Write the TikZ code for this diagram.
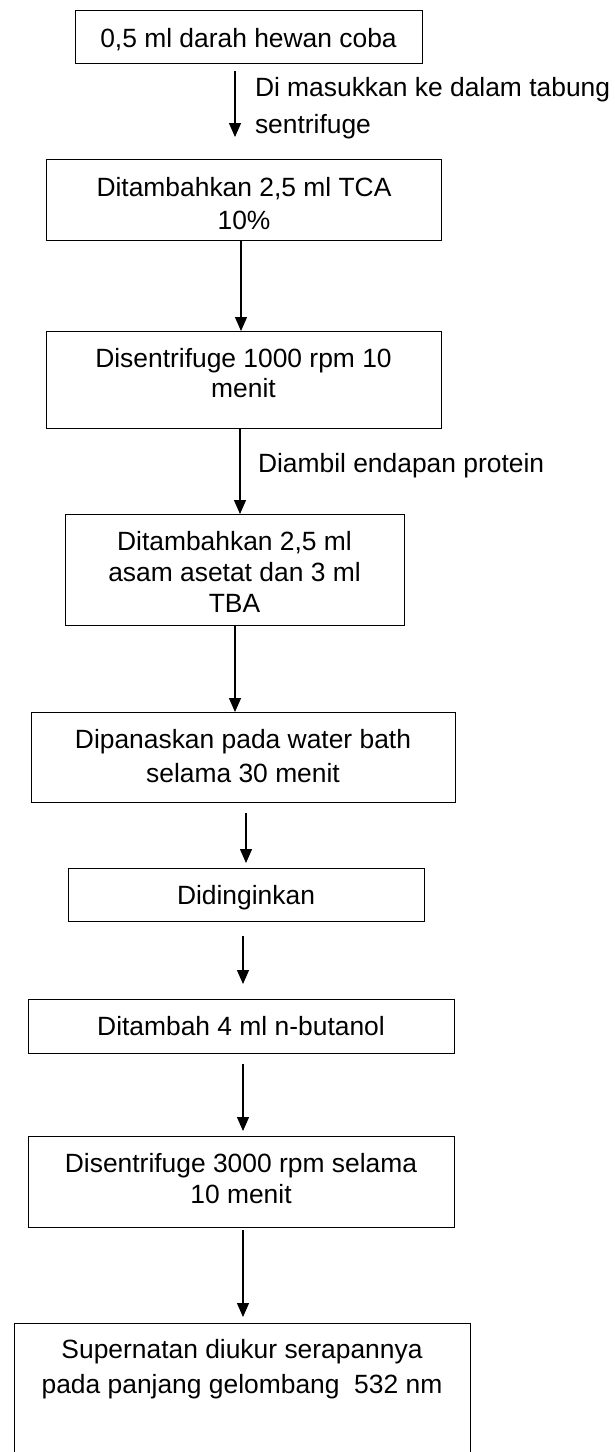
\documentclass[tikz,border=0pt]{standalone}
\usepackage{fontspec}
\setmainfont{Liberation Sans}
\usetikzlibrary{arrows.meta}
\begin{document}
\begin{tikzpicture}[x=1pt,y=-1pt,
  box/.style={draw=black,line width=1pt,inner sep=0pt,outer sep=0pt,rectangle},
  txt/.style={inner sep=0pt,outer sep=0pt,anchor=base,font=\fontsize{26.4pt}{32pt}\selectfont},
  ltxt/.style={txt,anchor=base west},
  arr/.style={line width=1.3pt,-{Triangle[length=14pt,width=12pt]}}]
\fill[white] (0,0) rectangle (615,1452);
\useasboundingbox (0,0) rectangle (615,1452);
% boxes
\node[box,minimum width=347pt,minimum height=53pt] (b1) at (248.5,36.5) {};
\node[box,minimum width=395pt,minimum height=81pt] (b2) at (243.5,199.5) {};
\node[box,minimum width=395pt,minimum height=97pt] (b3) at (243.5,379.5) {};
\node[box,minimum width=339pt,minimum height=111pt] (b4) at (234.5,569.5) {};
\node[box,minimum width=424pt,minimum height=90pt] (b5) at (243,757) {};
\node[box,minimum width=356pt,minimum height=53pt] (b6) at (246,894.5) {};
\node[box,minimum width=426pt,minimum height=54pt] (b7) at (241,1026) {};
\node[box,minimum width=426pt,minimum height=91pt] (b8) at (241,1181.5) {};
\node[box,minimum width=456pt,minimum height=133pt] (b9) at (242,1389.5) {};
% texts
\node[txt] (t1) at (248.5,47.5) {0,5 ml darah hewan coba};
\node[txt] (t2a) at (244,196) {Ditambahkan 2,5 ml TCA};
\node[txt] (t2b) at (244,229) {10\%};
\node[txt] (t3a) at (243.5,367) {Disentrifuge 1000 rpm 10};
\node[txt] (t3b) at (243.5,397) {menit};
\node[txt] (t4a) at (234.5,550) {Ditambahkan 2,5 ml};
\node[txt] (t4b) at (234.5,581) {asam asetat dan 3 ml};
\node[txt] (t4c) at (234.5,612) {TBA};
\node[txt] (t5a) at (243,748) {Dipanaskan pada water bath};
\node[txt] (t5b) at (243,782) {selama 30 menit};
\node[txt] (t6) at (246,904) {Didinginkan};
\node[txt] (t7) at (241,1035) {Ditambah 4 ml n-butanol};
\node[txt] (t8a) at (241,1172) {Disentrifuge 3000 rpm selama};
\node[txt] (t8b) at (241,1203) {10 menit};
\node[txt] (t9a) at (242,1358) {Supernatan diukur serapannya};
\node[txt] (t9b) at (242,1393) {pada panjang gelombang\ \ 532 nm};
% side labels
\node[ltxt] (l1a) at (255,96) {Di masukkan ke dalam tabung};
\node[ltxt] (l1b) at (255,133) {sentrifuge};
\node[ltxt] (l2) at (258,472) {Diambil endapan protein};
% arrow end points
\coordinate (a1s) at (235,71);   \coordinate (a1e) at (235,137);
\coordinate (a2s) at (241,240);  \coordinate (a2e) at (241,331);
\coordinate (a3s) at (240,428);  \coordinate (a3e) at (240,514);
\coordinate (a4s) at (235,625);  \coordinate (a4e) at (235,712);
\coordinate (a5s) at (246,813);  \coordinate (a5e) at (246,863);
\coordinate (a6s) at (243,936);  \coordinate (a6e) at (243,984);
\coordinate (a7s) at (243,1064); \coordinate (a7e) at (243,1131);
\coordinate (a8s) at (243,1230); \coordinate (a8e) at (243,1317);
\draw[arr] (a1s) -- (a1e);
\draw[arr] (a2s) -- (a2e);
\draw[arr] (a3s) -- (a3e);
\draw[arr] (a4s) -- (a4e);
\draw[arr] (a5s) -- (a5e);
\draw[arr] (a6s) -- (a6e);
\draw[arr] (a7s) -- (a7e);
\draw[arr] (a8s) -- (a8e);
\end{tikzpicture}
\end{document}
